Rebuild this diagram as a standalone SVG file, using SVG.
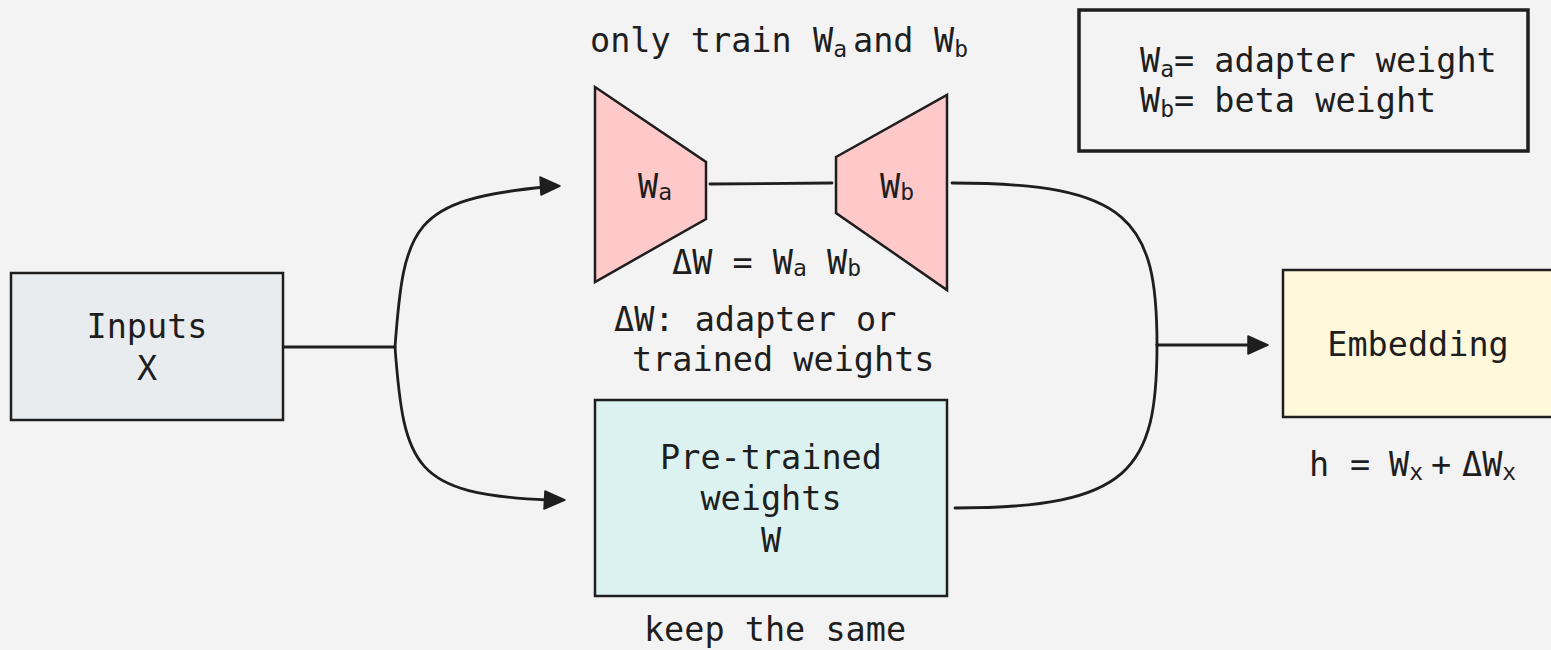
<svg xmlns="http://www.w3.org/2000/svg" width="1551" height="650" viewBox="0 0 1551 650">
<defs>
<style>
text{font-family:"DejaVu Sans Mono","Liberation Mono",monospace;font-size:33.5px;fill:#1e1e1e}
.sub{font-size:23px}
.box{stroke:#1e1e1e;stroke-width:2.5}
.conn{fill:none;stroke:#1e1e1e;stroke-width:2.8;stroke-linecap:round}
.ah{fill:#1e1e1e;stroke:#1e1e1e;stroke-width:1.5;stroke-linejoin:round}
</style>
</defs>
<rect width="1551" height="650" fill="#f3f3f3"/>

<g id="connectors">
<path class="conn" d="M284,347 L395,347"/>
<path class="conn" d="M395,347 C404,225 412,200 545,187"/>
<path class="ah" d="M560,186 L540,177 L541,195 Z"/>
<path class="conn" d="M395,347 C404,468 414,494 548,500"/>
<path class="ah" d="M565,500 L545,491 L544,509 Z"/>
<path class="conn" d="M710,184 L832,183"/>
<path class="conn" d="M952,183 C1130,183 1157,220 1157,345"/>
<path class="conn" d="M955,508 C1130,508 1157,470 1157,345"/>
<path class="conn" d="M1157,345 L1250,345"/>
<path class="ah" d="M1268,345 L1248,336 L1248,354 Z"/>
</g>

<g id="inputs">
<rect class="box" x="11" y="273" width="272" height="147" fill="#e9ecef"/>
<text x="147" y="338" text-anchor="middle">Inputs</text>
<text x="147" y="380" text-anchor="middle">X</text>
</g>

<g id="title-label">
<text x="590" y="52">only train <tspan x="813">W</tspan><tspan class="sub" dy="5">a</tspan><tspan x="853" dy="-5">and</tspan><tspan x="934">W</tspan><tspan class="sub" dy="5">b</tspan></text>
</g>

<g id="legend">
<rect x="1079" y="10" width="449" height="141" fill="none" stroke="#1e1e1e" stroke-width="3.5"/>
<text x="1140" y="72">W<tspan class="sub" dy="5">a</tspan><tspan dy="-5">= adapter weight</tspan></text>
<text x="1140" y="112">W<tspan class="sub" dy="5">b</tspan><tspan dy="-5">= beta weight</tspan></text>
</g>

<g id="wa">
<polygon class="box" points="595,87 706,162 706,219 595,282" fill="#ffc9c9"/>
<text x="638" y="198">W<tspan class="sub" dy="2">a</tspan></text>
</g>

<g id="wb">
<polygon class="box" points="836,157 947,95 947,290 836,213" fill="#ffc9c9"/>
<text x="880" y="198">W<tspan class="sub" dy="2">b</tspan></text>
</g>

<g id="delta-eq">
<text x="672" y="274">ΔW = W<tspan class="sub" dy="2">a</tspan><tspan dy="-2"> W</tspan><tspan class="sub" dy="2">b</tspan></text>
</g>

<g id="delta-desc">
<text x="614" y="331">ΔW: adapter or</text>
<text x="632" y="371">trained weights</text>
</g>

<g id="pretrained">
<rect class="box" x="595" y="400" width="352" height="196" fill="#dcf2f0"/>
<text x="771" y="469" text-anchor="middle">Pre-trained</text>
<text x="771" y="510" text-anchor="middle">weights</text>
<text x="771" y="552" text-anchor="middle">W</text>
<text x="775" y="641" text-anchor="middle">keep the same</text>
</g>

<g id="embedding">
<rect class="box" x="1283" y="270" width="280" height="147" fill="#fff8db"/>
<text x="1418" y="356" text-anchor="middle">Embedding</text>
<text x="1309" y="476">h<tspan x="1350">=</tspan><tspan x="1389">W</tspan><tspan class="sub" dy="4">x</tspan><tspan x="1431" dy="-4">+</tspan><tspan x="1462">ΔW</tspan><tspan class="sub" dy="4">x</tspan></text>
</g>
</svg>
